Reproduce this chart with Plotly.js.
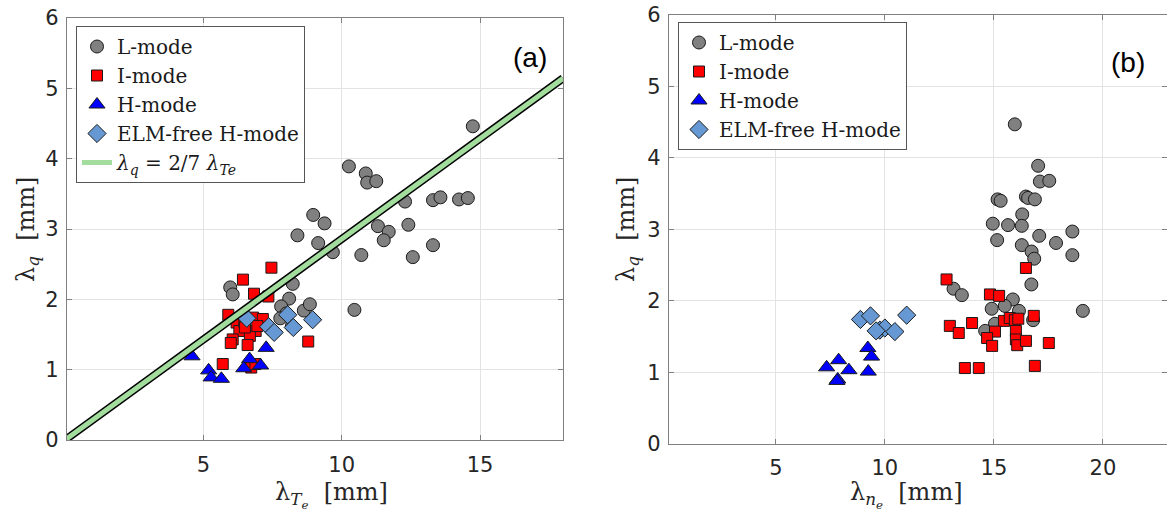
<!DOCTYPE html>
<html>
<head>
<meta charset="utf-8">
<script src="https://cdn.plot.ly/plotly-3.0.1.min.js"></script>
<style>html,body{margin:0;padding:0;background:#fff;}#chart{width:1167px;height:513px;}</style>
</head>
<body>
<div id="chart"></div>
<script>
// ---------- Panel (a): lambda_q vs lambda_Te ----------
const aL_x = [14.74,10.26,10.87,10.92,11.25,12.29,13.30,13.57,14.24,14.56,8.97,9.38,11.31,11.70,11.52,12.41,13.30,8.40,9.15,9.68,10.71,12.57,5.97,6.06,8.23,8.10,7.81,8.00,8.63,8.85,7.78,8.20,10.46];
const aL_y = [4.46,3.89,3.79,3.66,3.68,3.39,3.41,3.45,3.42,3.44,3.20,3.08,3.04,2.96,2.84,3.06,2.77,2.91,2.80,2.67,2.63,2.60,2.17,2.07,2.22,2.01,1.90,1.80,1.84,1.93,1.73,1.62,1.85];

const aI_x = [7.46,6.43,6.83,7.35,5.90,6.20,6.80,7.15,6.30,6.89,6.68,6.06,5.99,6.60,8.79,5.70,6.73,6.48,6.95,6.50,6.88];
const aI_y = [2.45,2.28,2.08,2.04,1.78,1.67,1.74,1.72,1.55,1.55,1.48,1.43,1.38,1.35,1.40,1.08,1.03,1.68,1.62,1.60,1.08];

const aH_x = [4.59,5.19,5.28,5.65,7.27,6.67,6.46,7.07];
const aH_y = [1.19,0.99,0.89,0.87,1.31,1.15,1.02,1.06];

const aE_x = [6.57,8.05,8.95,7.36,7.56,8.25];
const aE_y = [1.73,1.78,1.71,1.61,1.53,1.60];

// scaling law lambda_q = 2/7 lambda_Te
const lawSlope = 2/7;
const law_x = [0, 18];
const law_y = law_x.map(v => v * lawSlope);

// ---------- Panel (b): lambda_q vs lambda_ne ----------
const bL_x = [15.96,17.03,17.11,17.54,15.17,15.31,16.47,16.57,16.88,16.30,14.95,15.65,16.28,18.60,17.08,15.15,17.85,16.28,16.73,16.85,18.60,16.72,13.15,13.53,15.87,15.50,14.90,16.15,19.08,16.80,15.05,14.60];
const bL_y = [4.47,3.89,3.67,3.68,3.42,3.40,3.46,3.44,3.42,3.21,3.08,3.06,3.05,2.97,2.91,2.85,2.81,2.78,2.69,2.59,2.64,2.23,2.17,2.08,2.02,1.93,1.89,1.86,1.86,1.73,1.68,1.58];

const bI_x = [12.83,16.47,14.82,15.24,16.83,12.98,13.39,14.00,15.46,15.73,15.96,16.12,15.05,14.69,14.92,16.01,16.01,16.07,16.47,17.52,13.67,14.31,16.88];
const bI_y = [2.30,2.46,2.09,2.07,1.79,1.65,1.55,1.69,1.72,1.76,1.73,1.75,1.57,1.48,1.37,1.58,1.46,1.38,1.44,1.41,1.06,1.06,1.09];

const bH_x = [9.22,9.39,9.24,7.88,7.33,8.35,7.84,7.80];
const bH_y = [1.34,1.22,1.01,1.17,1.07,1.03,0.90,0.88];

const bE_x = [8.88,9.34,11.00,9.77,10.00,10.46,9.60];
const bE_y = [1.74,1.79,1.80,1.59,1.62,1.57,1.58];

const names = ['L-mode','I-mode','H-mode','ELM-free H-mode'];

const GRAY = '#808080', RED = '#ff0000', BLUE = '#0000ff', LBLUE = '#6699d4';

function sc(x, y, name, sym, color, size, xa, ya, leg) {
  return {x: x, y: y, type: 'scatter', mode: 'markers', name: name,
    xaxis: xa, yaxis: ya, legend: leg,
    marker: {symbol: sym, color: color, size: size, line: {color: '#1a1a1a', width: 1}}};
}

const traces = [
  sc(aL_x, aL_y, names[0], 'circle', GRAY, 13, 'x', 'y', 'legend'),
  sc(aI_x, aI_y, names[1], 'square', RED, 11, 'x', 'y', 'legend'),
  sc(aH_x, aH_y, names[2], 'triangle-up', BLUE, 14, 'x', 'y', 'legend'),
  sc(aE_x, aE_y, names[3], 'diamond', LBLUE, 14, 'x', 'y', 'legend'),
  {x: law_x, y: law_y, type: 'scatter', mode: 'lines', xaxis: 'x', yaxis: 'y',
   showlegend: false, line: {color: '#000', width: 8}, hoverinfo: 'skip'},
  {x: law_x, y: law_y, type: 'scatter', mode: 'lines', xaxis: 'x', yaxis: 'y', legend: 'legend',
   name: '<i>λ<sub>q</sub></i> = 2/7 <i>λ<sub>Te</sub></i>', line: {color: '#a3dd9e', width: 5}},
  sc(bL_x, bL_y, names[0], 'circle', GRAY, 13, 'x2', 'y2', 'legend2'),
  sc(bI_x, bI_y, names[1], 'square', RED, 11, 'x2', 'y2', 'legend2'),
  sc(bH_x, bH_y, names[2], 'triangle-up', BLUE, 14, 'x2', 'y2', 'legend2'),
  sc(bE_x, bE_y, names[3], 'diamond', LBLUE, 14, 'x2', 'y2', 'legend2')
];

const W = 1167, H = 513;
const tickFont = {family: 'DejaVu Sans, sans-serif', size: 21, color: '#262626'};
const serif = 'DejaVu Serif, serif';

function xax(domain, range, tv) {
  return {domain: domain, range: range, tickvals: tv, ticktext: tv.map(String),
    showgrid: true, gridcolor: '#e3e3e3', gridwidth: 1, zeroline: false,
    showline: true, linecolor: '#808080', linewidth: 1.3, mirror: 'ticks',
    ticks: 'inside', ticklen: 5, tickcolor: '#808080', tickfont: tickFont,
    ticklabelstandoff: 5};
}
function yax(domain, anchor) {
  return {domain: domain, range: [0, 6], tickvals: [0,1,2,3,4,5,6], anchor: anchor,
    showgrid: true, gridcolor: '#e3e3e3', gridwidth: 1, zeroline: false,
    showline: true, linecolor: '#808080', linewidth: 1.3, mirror: 'ticks',
    ticks: 'inside', ticklen: 5, tickcolor: '#808080', tickfont: tickFont,
    ticklabelstandoff: 3};
}

const legBase = {bgcolor: '#ffffff', bordercolor: '#555555', borderwidth: 1,
  font: {family: serif, size: 20, color: '#1a1a1a'}, xanchor: 'left', yanchor: 'top',
  tracegroupgap: 0, itemwidth: 30};

function ann(text, x, y, font, extra) {
  return Object.assign({text: text, xref: 'paper', yref: 'paper', x: x / W, y: 1 - y / H,
    xanchor: 'center', yanchor: 'middle', showarrow: false, font: font}, extra || {});
}
const labFont = {family: 'Liberation Sans, Arial, sans-serif', size: 28, color: '#000'};
const titFont = {family: serif, size: 24, color: '#262626'};

const layout = {
  width: W, height: H,
  margin: {l: 0, r: 0, t: 0, b: 0},
  paper_bgcolor: '#ffffff', plot_bgcolor: '#ffffff',
  showlegend: true,
  xaxis: Object.assign(xax([67/W, 563/W], [0.07, 18], [5,10,15]), {anchor: 'y'}),
  yaxis: yax([(H-440)/H, (H-18)/H], 'x'),
  xaxis2: Object.assign(xax([669/W, 1], [0.1, 22.94], [5,10,15,20]), {anchor: 'y2'}),
  yaxis2: yax([(H-443.8)/H, (H-15)/H], 'x2'),
  legend: Object.assign({}, legBase, {x: 76/W, y: 1 - 26/H}),
  legend2: Object.assign({}, legBase, {x: 678/W, y: 1 - 22/H}),
  annotations: [
    ann('(a)', 530, 57, labFont),
    ann('(b)', 1128, 62, labFont),
    ann('λ<sub><i>T<sub>e</sub></i></sub>  [mm]', 331, 495, titFont),
    ann('λ<sub><i>n<sub>e</sub></i></sub>  [mm]', 907, 495, titFont),
    ann('λ<sub><i>q</i></sub>  [mm]', 27, 230, titFont, {textangle: -90}),
    ann('λ<sub><i>q</i></sub>  [mm]', 627, 230, titFont, {textangle: -90})
  ]
};

Plotly.newPlot('chart', traces, layout, {staticPlot: true, displayModeBar: false});
</script>
</body>
</html>
